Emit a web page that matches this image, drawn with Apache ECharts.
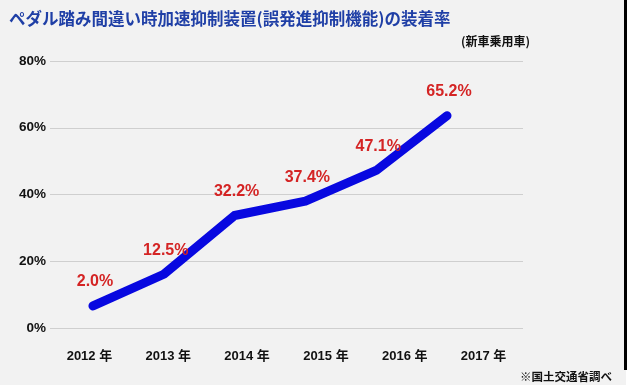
<!DOCTYPE html>
<html><head><meta charset="utf-8">
<script src="https://cdn.jsdelivr.net/npm/echarts@6/dist/echarts.min.js"></script>
<style>html,body{margin:0;padding:0;background:#f2f2f2}#c{width:628px;height:385px}</style>
</head><body><div id="c"></div>
<script>
const titleText = 'ペダル踏み間違い時加速抑制装置(誤発進抑制機能)の装着率';
const subtitleText = '(新車乗用車)';
const sourceText = '※国土交通省調べ';
const years = ['2012 年', '2013 年', '2014 年', '2015 年', '2016 年', '2017 年'];
const yTicks = [0, 20, 40, 60, 80];
// values as printed in the labels
const rateLabels = [2.0, 12.5, 32.2, 37.4, 47.1, 65.2];
// line heights as drawn in the picture (%)
const lineValues = [6.6, 16.1, 33.7, 38.0, 47.2, 63.6];

const font = '"Noto Sans CJK JP", "Noto Sans", sans-serif';
const numFont = '"Liberation Sans", "Noto Sans CJK JP", sans-serif';
const chart = echarts.init(document.getElementById('c'));
chart.setOption({
  backgroundColor: '#f2f2f2',
  animation: false,
  title: [
    { text: titleText, left: 4, top: 5,
      textStyle: { color: '#1f3fa6', fontSize: 16.5, fontWeight: 'bold', fontFamily: font } },
    { text: subtitleText, right: 93, top: 30,
      textStyle: { color: '#111', fontSize: 12, fontWeight: 'bold', fontFamily: font } },
    { text: sourceText, right: 11, top: 366,
      textStyle: { color: '#111', fontSize: 11.5, fontWeight: 'bold', fontFamily: font } }
  ],
  graphic: [
    { type: 'rect', right: 0, top: 0, shape: { width: 2, height: 385 }, style: { fill: '#ffffff' } },
    { type: 'rect', left: 624, top: 0, shape: { width: 3, height: 370 }, style: { fill: '#000' } }
  ],
  grid: [
    { left: 50, right: 105, top: 61, bottom: 57 },
    { left: 93, right: 181, top: 61, bottom: 57 }
  ],
  xAxis: [
    { type: 'category', gridIndex: 0, data: years, boundaryGap: true,
      axisLine: { show: false }, axisTick: { show: false },
      axisLabel: { margin: 22, color: '#111', fontSize: 13, fontWeight: 'bold', fontFamily: numFont } },
    { type: 'category', gridIndex: 1, data: years, boundaryGap: false, show: false }
  ],
  yAxis: [
    { type: 'value', gridIndex: 0, min: yTicks[0], max: yTicks[yTicks.length - 1], interval: 20,
      axisLine: { show: false }, axisTick: { show: false },
      splitLine: { lineStyle: { color: '#cfcfcf', width: 1 } },
      axisLabel: { formatter: '{value}%', margin: 4, color: '#111', fontSize: 13.5, fontWeight: 'bold', fontFamily: numFont } },
    { type: 'value', gridIndex: 1, min: 0, max: 80, show: false }
  ],
  series: [{
    type: 'line', xAxisIndex: 1, yAxisIndex: 1,
    data: lineValues,
    symbol: 'circle', symbolSize: 2, showSymbol: true,
    itemStyle: { color: 'rgba(0,0,0,0)' },
    lineStyle: { color: '#0808e0', width: 9, cap: 'round', join: 'round' },
    label: {
      show: true, position: 'top', distance: 15, offset: [2, 0],
      formatter: p => rateLabels[p.dataIndex].toFixed(1) + '%',
      color: '#d42424', fontSize: 16, fontWeight: 'bold', fontFamily: numFont
    }
  }]
});
</script></body></html>
